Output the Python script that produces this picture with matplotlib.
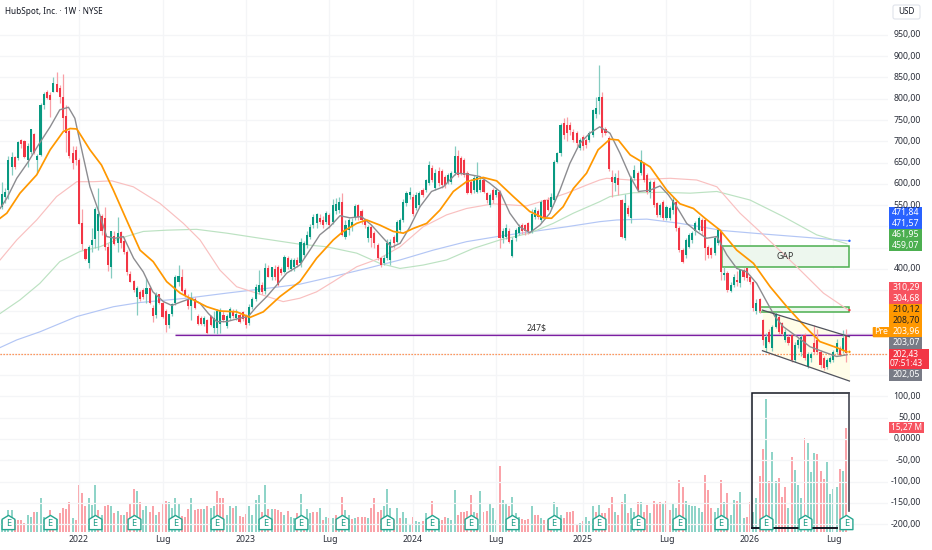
import matplotlib
matplotlib.use("Agg")
import matplotlib.pyplot as plt
from matplotlib.path import Path
from matplotlib.patches import Rectangle, FancyBboxPatch

plt.rcParams['font.family'] = ['Noto Sans', 'DejaVu Sans']

# ---------- data ----------
opens = [545,570,585,640,662,660,703,700,655,675, 716,655,668,785,815,808,817,835,825,805,
 760,725,672,680,655,507,447,415,455,470, 490,525,520,452,405,478,460,487,465,440,
 388,372,335,345,350,340,355,307,292,340, 320,302,268,295,320,368,382,350,328,312,
 330,290,285,270,280,290,262,262,270,292, 265,285,300,285,292,298,290,272,310,330,
 345,362,348,402,382,400,405,400,393,425, 400,405,420,413,433,456,476,503,507,519,
 515,511,527,511,537,538,558,476,491,499, 519,550,535,515,472,499,484,456,425,413,
 425,421,476,464,491,515,554,574,570,542, 550,585,585,601,637,590,631,631,617,605,
 605,625,665,660,656,625,605,585,581,585, 609,578,550,585,574,581,472,476,488,430,
 472,484,503,503,507,488,523,535,515,562, 562,546,562,652,672,742,738,738,723,719,
 684,711,703,703,715,763,795,805,730,707, 617,601,613,562,472,542,519,613,625,625,
 648,621,581,605,554,527,558,519,519,538, 558,495,444,433,452,468,488,491,515,515,
 452,448,437,460,488,385,390,349,362,375, 366,397,401,382,370,300,330,280,213,252,
 213,264,288,272,233,240,245,186,221,205, 245,170,190,225,233,205,190,170,182,186,
 205,213,209,245]
highs = [605,590,665,675,665,700,705,703,695,730, 720,670,790,815,820,815,850,862,832,858,
 785,730,690,690,660,540,450,455,495,545, 590,530,545,460,490,490,522,490,475,445,
 395,375,360,350,355,378,360,315,345,342, 325,305,295,320,385,408,400,355,340,345,
 335,295,290,290,282,292,300,305,308,300, 295,310,305,305,298,302,295,318,335,365,
 398,368,415,408,405,408,410,405,432,430, 425,425,428,472,466,490,505,530,532,530,
 525,535,532,565,566,568,578,515,520,520, 552,552,540,520,503,503,490,460,428,432,
 470,470,480,515,520,565,582,593,575,580, 582,590,612,654,645,635,640,636,620,625,
 630,690,680,665,660,630,612,620,652,615, 615,580,578,590,590,585,495,505,495,475,
 497,505,508,505,510,540,545,540,562,565, 568,578,655,675,742,755,757,745,730,725,
 708,715,708,725,775,805,880,815,733,712, 632,625,632,565,575,550,618,645,630,680,
 652,625,610,610,558,555,562,550,548,568, 562,500,448,472,485,490,512,525,520,520,
 455,452,478,497,492,405,395,368,388,395, 400,403,403,385,372,330,332,282,250,258,
 268,298,292,276,258,245,250,228,238,245, 250,205,205,268,258,210,195,190,195,210,
 235,218,257,258]
lows = [540,555,565,620,635,655,685,660,640,670, 670,625,665,775,800,757,815,815,790,727,
 675,660,635,645,505,445,420,402,440,450, 445,480,445,395,378,455,440,450,435,385,
 370,345,292,325,330,320,318,275,285,318, 285,252,260,290,315,360,345,335,305,280,
 305,268,268,265,247,265,250,248,250,275, 262,280,285,280,272,278,262,268,305,325,
 340,340,342,380,375,375,360,385,390,400, 395,395,405,405,425,450,470,497,495,505,
 497,505,497,505,530,532,477,470,480,490, 515,515,505,495,463,452,450,420,405,408,
 420,410,450,460,487,510,548,565,525,538, 545,568,580,598,605,585,595,590,590,600,
 600,620,615,620,615,575,575,578,578,580, 578,555,545,555,570,450,462,470,460,428,
 465,480,482,480,482,485,518,518,510,520, 535,540,558,648,665,705,700,715,698,690,
 680,680,685,698,710,755,765,710,715,630, 570,582,573,472,468,525,507,608,580,620,
 605,575,566,545,523,522,515,515,515,530, 490,440,415,425,448,462,480,488,480,420,
 425,425,432,455,375,375,345,345,358,360, 358,375,372,365,302,295,296,222,205,225,
 208,260,248,245,228,220,180,180,215,195, 185,168,182,200,200,168,162,165,178,180,
 200,195,202,182]
closes = [575,580,655,664,640,698,694,663,690,728, 672,665,785,812,802,797,838,817,805,755,
 720,665,650,655,505,458,423,452,468,540, 530,490,452,410,488,458,485,460,440,392,
 370,350,355,330,335,355,320,290,338,320, 288,268,295,318,382,384,348,338,312,330,
 308,270,270,285,250,268,285,300,302,280, 290,305,290,295,276,282,268,310,330,358,
 362,345,402,382,405,380,362,390,427,405, 420,420,410,464,460,480,499,523,529,511,
 503,531,503,550,553,558,480,503,515,511, 548,523,515,503,499,472,460,425,409,425,
 460,464,460,511,515,558,578,581,530,574, 578,574,609,644,609,625,601,597,597,621,
 625,665,621,625,621,578,578,613,617,609, 581,562,574,562,585,472,488,495,464,468,
 491,499,488,488,488,530,538,523,558,523, 538,570,652,672,738,715,719,727,703,695,
 703,688,691,719,773,779,805,719,719,636, 605,617,597,476,554,530,613,633,585,656,
 609,581,605,550,527,550,519,546,542,562, 495,444,417,468,480,485,507,519,488,448,
 433,433,472,491,393,390,350,362,382,370, 397,382,378,370,307,319,300,233,241,229,
 264,295,252,248,252,225,186,221,233,241, 190,201,201,205,205,174,166,186,190,205,
 225,198,237,202]

volumes = [1.7,2.0,3.2,3.2,1.7,1.7,1.7,1.2,2.5,2.2, 2.9,2.8,4.9,2.1,1.9,3.2,2.0,1.9,2.7,3.4,
 3.3,4.4,2.0,1.7,6.9,5.7,3.7,5.0,3.9,6.9, 3.2,2.5,3.8,3.9,3.8,2.7,3.0,2.5,2.5,2.8,
 4.0,6.3,6.0,4.4,3.2,3.7,2.8,3.8,2.5,2.9, 4.2,4.5,4.3,3.5,5.0,4.2,2.3,2.2,3.3,5.0,
 3.2,3.3,3.3,3.3,3.7,3.4,3.7,5.9,5.0,5.0, 2.5,3.8,3.5,3.8,2.3,2.2,2.6,3.8,2.4,4.7,
 5.4,2.8,6.9,3.3,3.3,3.3,3.2,2.9,2.5,3.0, 2.2,2.0,2.7,5.5,2.0,3.3,2.7,2.9,2.9,3.4,
 1.7,2.2,2.0,2.0,2.5,2.0,5.1,3.2,2.5,1.9, 2.0,2.1,2.2,2.1,2.0,3.5,4.9,2.9,3.2,3.7,
 6.3,3.4,1.7,3.4,2.0,2.8,2.0,1.1,2.2,1.6, 1.4,1.5,2.7,2.2,4.5,2.0,1.5,1.7,2.2,2.0,
 1.7,6.1,2.5,2.9,2.8,3.0,5.4,2.9,2.7,6.0, 2.8,3.0,4.2,3.4,1.7,9.7,4.7,4.0,3.7,5.1,
 2.7,2.2,1.9,1.7,1.9,3.7,2.4,2.4,2.0,1.7, 1.7,1.7,4.4,3.6,2.5,2.0,2.9,2.9,3.0,0.9,
 1.3,1.6,2.1,1.5,3.7,2.8,3.9,2.7,2.7,3.4, 5.1,2.9,2.4,4.4,5.5,2.7,3.5,2.9,4.3,4.4,
 2.9,3.9,2.7,4.5,4.2,4.4,4.2,4.5,3.2,4.2, 3.4,7.6,6.5,4.5,3.9,3.7,3.7,3.5,2.9,8.3,
 6.1,3.4,2.9,3.5,7.6,4.3,5.6,2.5,4.7,4.5, 5.8,2.0,2.2,4.3,2.9,4.9,8.2,12.2,19.5,7.5,
 11.7,7.5,7.8,5.1,6.6,3.4,10.9,9.1,6.9,5.0, 13.8,13.0,8.7,11.5,11.4,8.9,7.7,10.2,5.5,6.2,
 6.5,9.2,8.9,15.27]
# weeks whose volume bar is green
up_ids = [0,1,2,3,8,9,11,12,13,14,17,22,27,28,29,31,34,36,38,42,44,45,48,52,53,54,55,59,63,65,66,70,71,73,
 77,78,79,80,82,84,88,90,91,93,95,96,99,101,103,105,107,108,110,114,119,120,121,123,125,126,127,129,130,132,133,135,136,
 139,140,141,147,149,152,153,154,156,157,159,160,161,165,168,172,173,174,180,182,183,184,186,191,194,196,197,199,202,
 206,209,210,213,214,215,216,217,218,222,223,225,227,228,230,231,234,235,238,240,241,245,247,248,249,251,252,253,257,
 258,259,260,262]

gray_x = [-0.6,1.5,4.6,8.2,11.3,15,18,20.7,22.7,25.3,27.4,30,32.6,35.2,37.8,41,44,47,50.3,52.9,56,59,61.7,64.3,66.9,70,74,76.7,79.3,82.5,85.6,88.7,92.8,
 95.9,99,102.1,105.3,108.4,112,115.1,118.8,121.4,124,127.1,130.2,133.8,137.5,141.6,144.7,148.9,152,155.1,158.2,161.3,164.4,167.6,170.7,173.8,176.9,180,183.1,186.2,
 189.4,192.5,195.7,198.3,201.9,205,207.6,210.2,213.3,216.4,219.5,222.7,225.8,228.9,232,235.1,238.2,240.8,243.4,247.6,251.7,255.9,260,263.2]
gray_y = [542,566,613,652,691,734,774,780,754,664,593,538,476,472,476,425,393,346,323,314,323,331,319,295,276,276,284,288,311,335,362,390,409,
 444,480,499,525,520,523,503,472,451,460,499,546,582,593,625,623,617,601,582,531,499,485,503,531,585,648,695,719,734,
 719,672,617,582,585,595,574,546,507,488,472,476,433,401,393,366,323,288,264,241,217,205,194,198]
orange_x = [-0.6,1.5,5.6,10.8,15,19.1,21.2,23.3,27.4,31,34.7,38.8,43,47.1,51.3,55.5,59.6,63.8,67.9,73.1,77.3,81.4,86.6,92.8,
 98,103.2,106.3,110.5,113.6,117.7,121.9,125,128.1,132.3,136.4,140.6,144.7,149.9,154.1,159.3,164.4,168.6,171.2,174.8,178,182.1,185.7,
 189.4,192,195.7,201.9,207.1,211.2,215.4,219,223.7,228.9,234.1,239.3,244.5,249.7,254.8,260,263.2]
orange_y = [519,531,578,621,680,723,730,729,680,644,585,515,444,417,370,343,327,311,301,299,286,299,335,370,
 425,468,488,507,515,503,488,484,495,507,538,582,605,615,607,570,535,520,519,546,589,625,680,
 705,703,668,640,585,553,542,519,491,444,413,358,311,268,229,215,205]
red_x = [-0.6,4.6,10.8,17,23.3,28.5,34.2,40.9,49.2,56.5,61.7,67.9,73.1,79.3,87.6,92.8,98,103.2,110.5,117.7,124,131.2,138.5,144.7,153,163.4,169.6,175.9,182.1,186.2,
 188.4,195.7,208.1,216.4,222.7,229.9,237.2,247.6,255.9,263.7]
red_y = [421,468,515,570,605,605,607,593,554,507,468,397,358,343,323,331,346,370,405,425,452,499,527,542,553,548,562,578,597,609,
 613,609,613,609,593,531,480,405,343,303]
green_x = [-0.6,5.6,11.8,18,24.3,30.5,36.8,44,51.3,60.6,70,80.4,92.8,101.1,110.5,117.7,124,131.2,138.5,146.8,155.1,164.4,171.7,178,186.2,
 189.4,196.7,206,214.4,222.7,233,243.4,253.8,263.2]
green_y = [295,327,366,417,441,452,472,488,491,493,484,472,458,452,437,413,401,409,421,448,468,484,507,531,558,
 570,579,580,578,582,562,523,480,459]
blue_x = [-0.6,4.6,11.8,23.3,34.7,43,57.5,70,85.6,92.8,103.2,113.6,124,134.3,144.7,155.1,165.5,175.9,186.2,191.5,200.9,211.2,224.7,237.2,250.7,263.7]
blue_y = [215,233,252,288,311,321,331,343,357,364,382,401,421,444,464,477,488,499,511,515,517,507,490,482,474,466]

earnings_idx = [2,15,29,41,54,67,82,93,106,120,134,146,159,172,186,198,211,224,238,250,263]

price_ticks = [950,900,850,800,750,700,650,600,550,400,100,50,0,-50,-100,-150,-200]
price_labels = ["950,00","900,00","850,00","800,00","750,00","700,00","650,00","600,00","550,00","400,00",
                "100,00","50,00","0,0000","-50,00","-100,00","-150,00","-200,00"]
grid_prices = list(range(-200, 1000, 50))
time_ticks = [24,50,76,102,128,154,181,207,233,259]
time_labels = ["2022","Lug","2023","Lug","2024","Lug","2025","Lug","2026","Lug"]

level_247 = 245
level_last = 199
gap_box = (405, 454.5)
gap2_box = (298, 311)
channel_upper = ([236.9, 264.0], [303, 240.5])
channel_lower = ([236.9, 264.0], [207.6, 136.3])
frame_idx = (233.8, 263.8)
frame_prices = (-210, 107.5)

tags = [("471,84","#2962FF","white"),("471,57","#2962FF","white"),("461,95","#4CAF50","white"),("459,07","#4CAF50","white"),
        ("310,29","#F7525F","white"),("304,68","#F7525F","white"),("210,12","#FF9800","#222222"),("208,70","#FF9800","#222222"),
        ("203,96","#FF9800","white"),("203,07","#787B86","white"),("202,43\n07:51:43","#F23645","white"),("202,05","#787B86","white")]

# ---------- layout ----------
W, H = 932, 550
fig = plt.figure(figsize=(W/100, H/100), dpi=100, facecolor="white")
PLOT_R, PLOT_B = 888, 532
ax = fig.add_axes([0, 1-PLOT_B/H, PLOT_R/W, PLOT_B/H])
X0, XS = 2.0, 3.21
Y0, YS = 439.0, 0.4253
ax.set_xlim((0-X0)/XS, (PLOT_R-X0)/XS)
ax.set_ylim((Y0-PLOT_B)/YS, Y0/YS)
for s in ax.spines.values():
    s.set_visible(False)
ax.tick_params(length=0, labelleft=False, labelbottom=False, left=False, bottom=False)
ax.set_xticks(time_ticks)
ax.set_yticks(grid_prices)
ax.grid(True, color="#F4F5F7", lw=0.9, zorder=0)
ax.set_axisbelow(True)

axv = ax.twinx()
axv.set_ylim(-0.07, 531.5/6.8)
axv.axis("off")
ax.set_zorder(2); axv.set_zorder(1); ax.patch.set_visible(False)
axv.patch.set_visible(False)

G, R = "#089981", "#F23645"
idx = list(range(len(closes)))

# volume
ups = set(up_ids)
vcol = ["#8FD4C8" if i in ups else "#FAA3A9" for i in idx]
axv.bar(idx, volumes, width=0.62, color=vcol, lw=0, zorder=2)

# channel fill
ax.fill_between(channel_upper[0], channel_lower[1], channel_upper[1], color="#FFFDE9", lw=0, zorder=1)
# gap zones
for b, x0 in ((gap_box, 224.4), (gap2_box, 236.2)):
    ax.add_patch(Rectangle((x0, b[0]), 264.0-x0, b[1]-b[0], fc="#EDF7EE", ec="#4CAF50", lw=1.1, zorder=1.5))
ax.text(244, 430, "GAP", ha="center", va="center", fontsize=6.3, color="#333333", zorder=8)

# purple level and dotted price
ax.plot([54, (PLOT_R-X0)/XS], [level_247+1.3]*2, color="#D8BFE2", lw=0.8, zorder=3, solid_capstyle="butt")
ax.plot([54, (PLOT_R-X0)/XS], [level_247]*2, color="#7B1FA2", lw=0.9, zorder=3, solid_capstyle="butt")
ax.plot(ax.get_xlim(), [level_last]*2, color="#FF7A2F", lw=0.9, ls=(0, (1, 1.4)), zorder=3)
ax.text(166.5, 262, "247$", ha="center", va="center", fontsize=6.3, color="#333333", zorder=8)

# slow moving averages
ax.plot(blue_x, blue_y, color="#B3C6F5", lw=0.85, zorder=3)
ax.plot(green_x, green_y, color="#BCE2C2", lw=0.85, zorder=3)
ax.plot(red_x, red_y, color="#F9C0C0", lw=0.85, zorder=3)

# candles
ccol = [G if c >= o else R for o, c in zip(opens, closes)]
wcol = ["#85CCC0" if c >= o else "#F9A0A7" for o, c in zip(opens, closes)]
ax.vlines(idx, lows, highs, colors=wcol, lw=0.9, zorder=4)
ax.bar(idx, [abs(c-o) for o, c in zip(opens, closes)], bottom=[min(o, c) for o, c in zip(opens, closes)],
       width=0.66, color=ccol, lw=0, zorder=5)

ax.plot(gray_x, gray_y, color="#8C8C90", lw=1.0, zorder=6)
ax.plot(orange_x, orange_y, color="#FF9800", lw=1.25, zorder=6.5)

# channel lines
ax.plot(*channel_upper, color="#50535E", lw=0.9, zorder=7)
ax.plot(*channel_lower, color="#50535E", lw=0.9, zorder=7)

# MA end dots
ax.scatter([264]*3, [blue_y[-1], red_y[-1], orange_y[-1]], s=3, c=["#2962FF", "#F23645", "#FF9800"], lw=0, zorder=7)

# frame round recent volume
ax.plot([frame_idx[0], frame_idx[0], frame_idx[1]], [frame_prices[0], frame_prices[1], frame_prices[1]],
        color="#131722", lw=1.1, zorder=7, solid_joinstyle="miter")
ax.plot([frame_idx[1], frame_idx[1]], [frame_prices[1], -170], color="#434651", lw=1.2, zorder=7)
ax.plot([frame_idx[0], 260], [frame_prices[0]]*2, color="#131722", lw=1.4, zorder=7)

# earnings marks
house = Path([(-0.9, -1), (0.9, -1), (0.9, 0.45), (0, 1), (-0.9, 0.45), (-0.9, -1)], closed=True)
E_PRICE = -196
ax.scatter(earnings_idx, [E_PRICE]*len(earnings_idx), marker=house, s=105, facecolor="white", edgecolor="#26A68F", lw=1.0, zorder=8)
for e in earnings_idx:
    ax.text(e, E_PRICE-2, "E", ha="center", va="center", fontsize=6.6, color="#1C9C86", fontweight="bold", zorder=9)

# overlay in pixel space for price-scale furniture
ui = fig.add_axes([0, 0, 1, 1], facecolor="none")
ui.set_xlim(0, W); ui.set_ylim(H, 0); ui.axis("off"); ui.set_zorder(10)

ui.text(5, 11, "HubSpot, Inc. · 1W · NYSE", fontsize=5.9, color="#131722", va="center", ha="left", fontweight="medium")
ui.add_patch(FancyBboxPatch((893, 5), 27, 14, boxstyle="round,pad=0,rounding_size=2", fc="white", ec="#E0E3EB", lw=0.8))
ui.text(906.5, 12, "USD", fontsize=5.8, color="#131722", ha="center", va="center")

for p, lab in zip(price_ticks, price_labels):
    y = Y0 - p*YS
    ui.text(921, y, lab, fontsize=6.3, color="#2A2E39", ha="right", va="center")

tag_rows = [(206.7, 1), (218, 1), (229.3, 1), (240, 1), (282, 1), (293.3, 1), (304, 1), (315, 1), (326, 1), (337.3, 1), (348.7, 2), (369.3, 1)]
for (lab, col, tc), (ty, rows) in zip(tags, tag_rows):
    h = 11.35 if rows == 1 else 20.6
    right = 929 if rows == 2 else 922
    ui.add_patch(Rectangle((889.3, ty), right-889.3, h, fc=col, ec="none"))
    ui.text(906, ty+h/2, lab, fontsize=6.0 if rows == 2 else 6.3, color=tc, ha="center", va="center", linespacing=1.05)

# volume tag
ui.add_patch(Rectangle((889.3, 422.3), 34.7, 11, fc="#F7525F", ec="none"))
ui.text(906.5, 427.8, "15,27 M", fontsize=6.0, color="white", ha="center", va="center")
# Pre tag
ui.add_patch(FancyBboxPatch((872.7, 327), 16.6, 10.3, boxstyle="round,pad=0,rounding_size=1", fc="#FF9800", ec="none"))
ui.text(881, 332, "Pre", fontsize=6.3, color="white", ha="center", va="center")

for t, lab in zip(time_ticks, time_labels):
    ui.text(X0+XS*t, 540, lab, fontsize=6.3, color="#2A2E39", ha="center", va="center")

fig.savefig("out.png", dpi=100, facecolor="white")
